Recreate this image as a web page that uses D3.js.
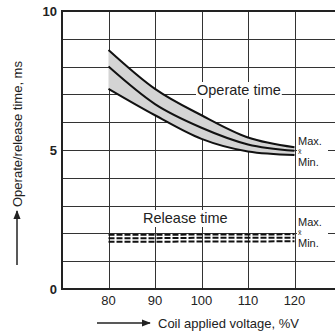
<!DOCTYPE html>
<html>
<head>
<meta charset="utf-8">
<script src="https://d3js.org/d3.v7.min.js"></script>
<style>
  body { margin: 0; background: #fff; }
  svg { display: block; font-family: "Liberation Sans", Arial, Helvetica, sans-serif; }
  .grid line { stroke: #333; stroke-width: 1.2; shape-rendering: crispEdges; }
  .curve { fill: none; stroke: #111; stroke-width: 2; }
</style>
</head>
<body>
<svg id="chart" width="335" height="334"></svg>
<script>
// data
var voltage = [80, 90, 100, 110, 120];
var operateMax = [8.6, 7.2, 6.25, 5.45, 5.1];
var operateAvg = [8.0, 6.65, 5.8, 5.2, 4.97];
var operateMin = [7.2, 6.25, 5.4, 4.95, 4.82];
var releaseMax = [1.95, 1.95, 1.96, 1.96, 1.97];
var releaseAvg = [1.83, 1.83, 1.84, 1.84, 1.84];
var releaseMin = [1.7, 1.7, 1.71, 1.71, 1.72];
var xTicks = [80, 90, 100, 110, 120];
var yTicks = [0, 5, 10];
var yGrid = [1, 2, 3, 4, 5, 6, 7, 8, 9];
var xGrid = [80, 90, 100, 110, 120];

var svg = d3.select("#chart");

var x = d3.scaleLinear().domain([70, 130]).range([62, 341]);
var y = d3.scaleLinear().domain([0, 10]).range([289, 11]);

// grid
var grid = svg.append("g").attr("class", "grid");
grid.selectAll(".h").data(yGrid).enter().append("line")
  .attr("x1", x(70)).attr("x2", 335)
  .attr("y1", d => Math.round(y(d)) + 0.5).attr("y2", d => Math.round(y(d)) + 0.5);
grid.selectAll(".v").data(xGrid).enter().append("line")
  .attr("y1", y(10)).attr("y2", y(0))
  .attr("x1", d => Math.round(x(d)) + 0.5).attr("x2", d => Math.round(x(d)) + 0.5);

// frame (left, top, bottom)
svg.append("path")
  .attr("d", "M335," + y(10) + "H" + x(70) + "V" + y(0) + "H335")
  .attr("fill", "none").attr("stroke", "#222").attr("stroke-width", 2);

var rows = voltage.map((v, i) => ({v: v, hi: operateMax[i], mid: operateAvg[i], lo: operateMin[i],
  rhi: releaseMax[i], rmid: releaseAvg[i], rlo: releaseMin[i]}));

// operate band
var curve = d3.curveMonotoneX;
svg.append("path").datum(rows)
  .attr("fill", "#d4d4d4")
  .attr("d", d3.area().curve(curve).x(d => x(d.v)).y0(d => y(d.lo)).y1(d => y(d.hi)));

["hi", "mid", "lo"].forEach(function(k) {
  svg.append("path").datum(rows).attr("class", "curve")
    .attr("d", d3.line().curve(curve).x(d => x(d.v)).y(d => y(d[k])));
});

// release lines (dashed)
["rhi", "rmid", "rlo"].forEach(function(k) {
  svg.append("path").datum(rows).attr("class", "curve")
    .attr("stroke-width", 2.2)
    .attr("stroke-dasharray", "6,2")
    .attr("d", d3.line().curve(curve).x(d => x(d.v)).y(d => y(d[k])));
});

// labels with white background
function boxLabel(txt, lx, ly, size) {
  var g = svg.append("g");
  var t = g.append("text").attr("x", lx).attr("y", ly)
    .attr("font-size", size).attr("fill", "#222").text(txt);
  var b = t.node().getBBox();
  g.insert("rect", "text").attr("x", b.x - 1).attr("y", b.y)
    .attr("width", b.width + 2).attr("height", b.height + 1).attr("fill", "#fff");
}
boxLabel("Operate time", 197, 95, 14.5);
boxLabel("Release time", 143, 223, 14.5);

function legendStack(base) {
  var g = svg.append("g").attr("fill", "#222")
    .attr("font-family", "'Liberation Sans Narrow', 'Liberation Sans', Arial, sans-serif");
  g.append("rect").attr("x", 297).attr("y", base - 10).attr("width", 31).attr("height", 33).attr("fill", "#fff");
  g.append("text").attr("x", 298).attr("y", base).attr("font-size", 11).text("Max.");
  g.append("text").attr("x", 298).attr("y", base + 9).attr("font-size", 7).text("x\u0304");
  g.append("text").attr("x", 298).attr("y", base + 21).attr("font-size", 11).text("Min.");
}
legendStack(145);
legendStack(226);

// tick labels
svg.selectAll(".yt").data(yTicks).enter().append("text")
  .attr("x", 57).attr("y", d => y(d) + 5)
  .attr("text-anchor", "end").attr("font-size", 13).attr("font-weight", "bold")
  .attr("fill", "#222").text(d => d);
svg.selectAll(".xt").data(xTicks).enter().append("text")
  .attr("x", d => x(d)).attr("y", 305)
  .attr("text-anchor", "middle").attr("font-size", 13)
  .attr("fill", "#222").text(d => d);

// axis titles with arrows
svg.append("defs").append("marker")
  .attr("id", "arr").attr("viewBox", "0 0 10 10").attr("refX", 9).attr("refY", 5)
  .attr("markerWidth", 6).attr("markerHeight", 6).attr("orient", "auto")
  .append("path").attr("d", "M0,1L10,5L0,9Z").attr("fill", "#222");

svg.append("line").attr("x1", 97).attr("x2", 150).attr("y1", 323).attr("y2", 323)
  .attr("stroke", "#222").attr("stroke-width", 1.5).attr("marker-end", "url(#arr)");
svg.append("text").attr("x", 158).attr("y", 328).attr("font-size", 13)
  .attr("fill", "#222").text("Coil applied voltage, %V");

svg.append("line").attr("x1", 17).attr("x2", 17).attr("y1", 265).attr("y2", 211)
  .attr("stroke", "#222").attr("stroke-width", 1.5).attr("marker-end", "url(#arr)");
svg.append("text").attr("transform", "translate(22,207) rotate(-90)")
  .attr("font-size", 13).attr("fill", "#222").text("Operate/release time, ms");
</script>
</body>
</html>
